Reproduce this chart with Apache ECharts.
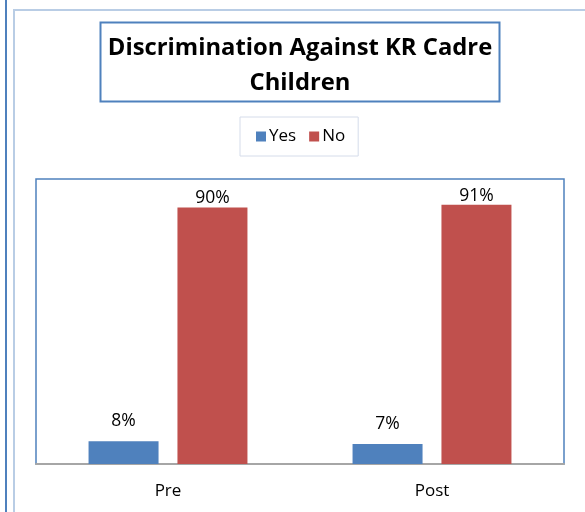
<!DOCTYPE html>
<html><head><meta charset="utf-8">
<script src="https://cdn.jsdelivr.net/npm/echarts@6/dist/echarts.min.js"></script>
<style>html,body{margin:0;padding:0;background:#fff}#c{width:585px;height:512px}</style>
</head><body><div id="c"></div>
<script>
var categories = ['Pre', 'Post'];
var yesValues = [8, 7];
var noValues = [90, 91];
var seriesNames = ['Yes', 'No'];
var titleText = 'Discrimination Against KR Cadre\nChildren';

var chart = echarts.init(document.getElementById('c'));
var font = 'Open Sans';
chart.setOption({
  animation: false,
  backgroundColor: '#fff',
  title: {
    text: titleText,
    left: 300, top: 30, textAlign: 'center', padding: 0,
    textStyle: { fontFamily: font, fontWeight: 'bold', fontSize: 23.8, lineHeight: 35.5, color: '#000' }
  },
  legend: {
    data: seriesNames,
    left: 240, top: 117,
    padding: [11, 13, 11, 16],
    borderColor: '#d5dcea', borderWidth: 1,
    itemWidth: 10, itemHeight: 10, itemGap: 13,
    icon: 'rect',
    textStyle: { fontFamily: font, fontSize: 17, color: '#000', padding: [0, 0, 0, -2] }
  },
  graphic: [
    { type: 'rect', shape: { x: 5, y: 0, width: 2, height: 512 }, style: { fill: '#4f81bd' }, silent: true },
    { type: 'rect', shape: { x: 13, y: 9, width: 2, height: 503 }, style: { fill: '#b9cde5' }, silent: true },
    { type: 'rect', shape: { x: 13, y: 9, width: 572, height: 2 }, style: { fill: '#b9cde5' }, silent: true },
    { type: 'rect', shape: { x: 100.5, y: 22.5, width: 399, height: 79 }, style: { fill: 'none', stroke: '#4f81bd', lineWidth: 2 }, silent: true, z: -1 }
  ],
  grid: { left: 36, top: 179, right: 21, bottom: 48, show: true, borderColor: '#4f81bd', borderWidth: 1.5 },
  xAxis: {
    type: 'category', data: categories,
    axisLine: { lineStyle: { color: '#a6a6a6', width: 2 } },
    axisTick: { show: false },
    axisLabel: { fontFamily: font, fontSize: 17, color: '#000', margin: 19 }
  },
  yAxis: { type: 'value', min: 0, max: 100, show: false, splitLine: { show: false } },
  series: [
    { name: seriesNames[0], type: 'bar', data: yesValues, barWidth: 70, barGap: '27%',
      itemStyle: { color: '#4f81bd' },
      label: { show: true, position: 'top', distance: 11, formatter: '{c}%', fontFamily: font, fontSize: 17.5, color: '#000' } },
    { name: seriesNames[1], type: 'bar', data: noValues, barWidth: 70,
      itemStyle: { color: '#c0504d' },
      label: { show: true, position: 'top', distance: 0, formatter: '{c}%', fontFamily: font, fontSize: 17.5, color: '#000' } }
  ]
});
</script></body></html>
